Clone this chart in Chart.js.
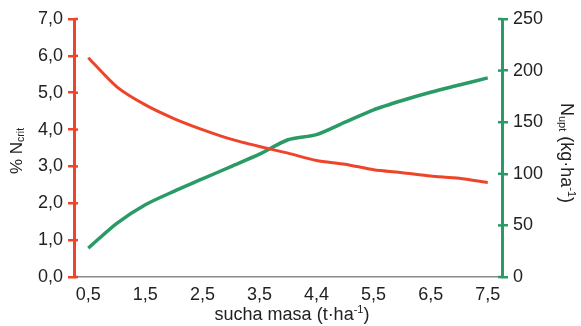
<!DOCTYPE html>
<html><head><meta charset="utf-8">
<script src="https://cdn.jsdelivr.net/npm/chart.js@4"></script>
<style>html,body{margin:0;padding:0;background:#fff}#w{width:581px;height:326px}</style>
</head><body><div id="w"><canvas id="c"></canvas></div>
<script>
const categories = [0.5,1,1.5,2,2.5,3,3.5,4,4.5,5,5.5,6,6.5,7,7.5];
const xTickLabels = ['0,5','','1,5','','2,5','','3,5','','4,4','','5,5','','6,5','','7,5'];
const nCrit = [5.95,5.16,4.67,4.30,4.00,3.74,3.54,3.36,3.16,3.06,2.91,2.83,2.74,2.68,2.56];
const nUpt = [28,52,70,83,95,107,119,133,138,150,162,171,179,186,193];
const leftTicks = [0,1,2,3,4,5,6,7];
const rightTicks = [0,50,100,150,200,250];

const RED = '#ee4429', GREEN = '#2a9b66', TXT = '#222';
const FONT = "'Liberation Sans', Arial, sans-serif";

const titlePlugin = {
  id: 'titles',
  afterDraw(chart) {
    const ctx = chart.ctx;
    ctx.save();
    ctx.fillStyle = TXT;
    function drawSub(parts) {
      let total = 0;
      parts.forEach(p => { ctx.font = p[1] + 'px ' + FONT; total += ctx.measureText(p[0]).width; });
      let x = -total / 2;
      parts.forEach(p => {
        ctx.font = p[1] + 'px ' + FONT;
        ctx.textBaseline = 'middle';
        ctx.textAlign = 'left';
        ctx.fillText(p[0], x, p[2]);
        x += ctx.measureText(p[0]).width;
      });
    }
    ctx.save();
    ctx.translate(17, 151);
    ctx.rotate(-Math.PI / 2);
    drawSub([['% N', 17, 0], ['crit', 10.5, 4]]);
    ctx.restore();
    ctx.save();
    ctx.translate(566, 153);
    ctx.rotate(Math.PI / 2);
    drawSub([['N', 18, 0], ['upt', 11, 4], [' (kg·ha', 18, 0], ['-1', 11, -5], [')', 18, 0]]);
    ctx.restore();
    ctx.save();
    ctx.translate(292, 315);
    drawSub([['sucha masa (t·ha', 18, 0], ['-1', 11, -5], [')', 18, 0]]);
    ctx.restore();
    const ca = chart.chartArea;
    const yl = chart.scales.y, yr = chart.scales.y2;
    ctx.lineWidth = 2.5;
    ctx.strokeStyle = RED;
    leftTicks.forEach(v => { const y = yl.getPixelForValue(v); ctx.beginPath(); ctx.moveTo(ca.left, y); ctx.lineTo(ca.left + 4, y); ctx.stroke(); });
    ctx.strokeStyle = GREEN;
    rightTicks.forEach(v => { const y = yr.getPixelForValue(v); ctx.beginPath(); ctx.moveTo(ca.right, y); ctx.lineTo(ca.right - 4, y); ctx.stroke(); });
    ctx.restore();
  }
};

new Chart(document.getElementById('c'), {
  type: 'line',
  data: {
    labels: categories,
    datasets: [
      { data: nCrit, yAxisID: 'y', borderColor: RED, borderWidth: 3, pointRadius: 0, tension: 0.25, fill: false },
      { data: nUpt, yAxisID: 'y2', borderColor: GREEN, borderWidth: 3.5, pointRadius: 0, tension: 0.25, fill: false }
    ]
  },
  options: {
    responsive: true, maintainAspectRatio: false, animation: false,
    layout: { padding: { top: 19, left: 0, right: 0, bottom: 0 } },
    plugins: { legend: { display: false }, tooltip: { enabled: false } },
    scales: {
      x: {
        type: 'category', offset: true,
        grid: { display: false, drawTicks: false },
        border: { display: true, color: '#888', width: 1.5 },
        ticks: { color: TXT, font: { family: FONT, size: 18 }, padding: 7, autoSkip: false, maxRotation: 0,
          callback: (v, i) => xTickLabels[i] },
        afterFit: s => { s.height = 49; }
      },
      y: {
        position: 'left', min: 0, max: 7,
        afterBuildTicks: s => { s.ticks = leftTicks.map(v => ({ value: v })); },
        grid: { drawOnChartArea: false, color: RED, lineWidth: 2.5, tickLength: 6 },
        border: { color: RED, width: 3 },
        ticks: { color: TXT, font: { family: FONT, size: 18 }, padding: 5, callback: v => v.toFixed(1).replace('.', ',') },
        afterFit: s => { s.width = 74; }
      },
      y2: {
        position: 'right', min: 0, max: 250,
        afterBuildTicks: s => { s.ticks = rightTicks.map(v => ({ value: v })); },
        grid: { drawOnChartArea: false, color: GREEN, lineWidth: 2.5, tickLength: 6 },
        border: { color: GREEN, width: 3 },
        ticks: { color: TXT, font: { family: FONT, size: 18 }, padding: 5, callback: v => String(v) },
        afterFit: s => { s.width = 79; }
      }
    }
  },
  plugins: [titlePlugin]
});
</script></body></html>
